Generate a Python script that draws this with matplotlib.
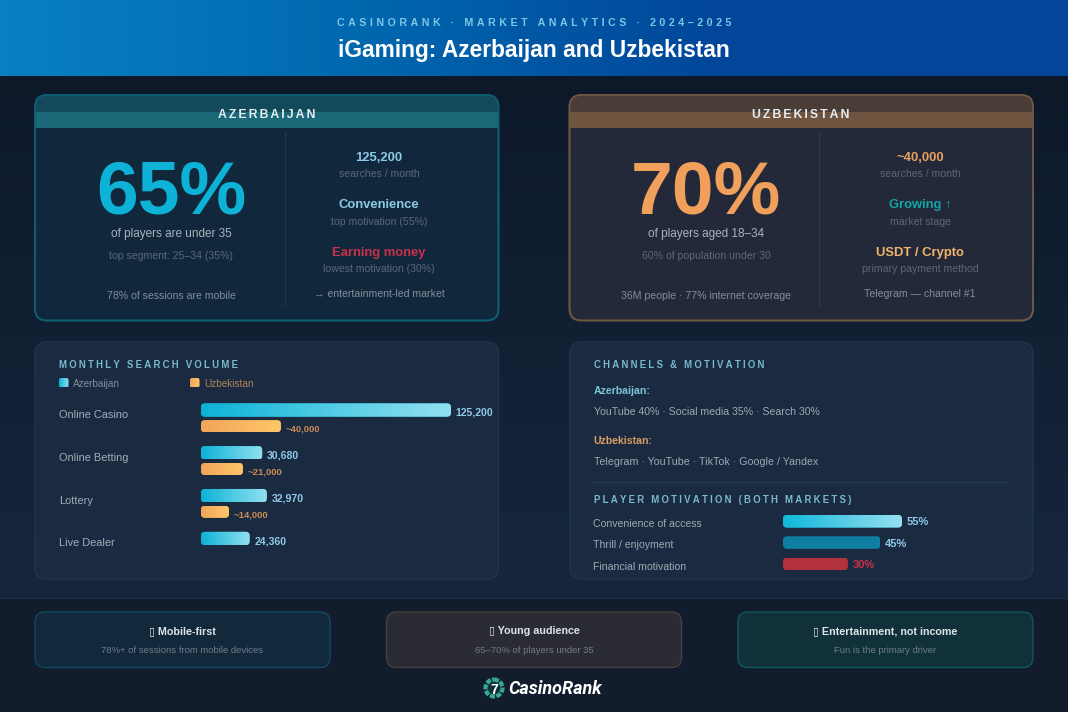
import numpy as np
import matplotlib
matplotlib.use("Agg")
import matplotlib.pyplot as plt
from matplotlib.colors import LinearSegmentedColormap
from matplotlib.patches import FancyBboxPatch, Rectangle, Circle

plt.rcParams["font.family"] = ["Liberation Sans", "DejaVu Sans"]

# data
search_cats = ["Online Casino", "Online Betting", "Lottery", "Live Dealer"]
search_az = [125200, 30680, 32970, 24360]
search_uz = [40000, 21000, 14000, None]
search_az_labels = ["125,200", "30,680", "32,970", "24,360"]
search_uz_labels = ["~40,000", "~21,000", "~14,000", ""]

motiv_cats = ["Convenience of access", "Thrill / enjoyment", "Financial motivation"]
motiv_vals = [55, 45, 30]
motiv_labels = ["55%", "45%", "30%"]

az_stats = [("125,200", "searches / month", "#8ecae6"),
            ("Convenience", "top motivation (55%)", "#8ecae6"),
            ("Earning money", "lowest motivation (30%)", "#c9304a")]
uz_stats = [("~40,000", "searches / month", "#e9a15f"),
            ("Growing ↑", "market stage", "#12a5a5"),
            ("USDT / Crypto", "primary payment method", "#f0b566")]

footer_titles = ["▯ Mobile-first", "▯ Young audience", "▯ Entertainment, not income"]
footer_subs = ["78%+ of sessions from mobile devices", "65–70% of players under 35", "Fun is the primary driver"]

CYAN = ["#0db2d6", "#4fcbe4", "#92dff0"]
ORANGE = ["#f2a45c", "#ffc766"]

fig = plt.figure(figsize=(10.68, 7.12), dpi=100)
bg = fig.add_axes([0, 0, 1, 1])
bg.set_xlim(0, 1068)
bg.set_ylim(712, 0)
bg.axis("off")
bg.autoscale(False)


def gradient(ax, colors, extent, horizontal=True, clip=None, zorder=1):
    cmap = LinearSegmentedColormap.from_list("g", colors)
    g = np.linspace(0, 1, 256)
    g = g.reshape(1, -1) if horizontal else g.reshape(-1, 1)
    im = ax.imshow(g, cmap=cmap, extent=extent, aspect="auto", zorder=zorder, interpolation="bilinear")
    if clip is not None:
        im.set_clip_path(clip)
    return im


def rbox(x0, y0, x1, y1, r, fc="none", ec="none", lw=1, zorder=2, add=True):
    p = FancyBboxPatch((x0 + r, y0 + r), x1 - x0 - 2 * r, y1 - y0 - 2 * r,
                       boxstyle=f"round,pad={r},rounding_size={r}",
                       fc=fc, ec=ec, lw=lw, zorder=zorder, transform=bg.transData)
    if add:
        bg.add_patch(p)
    return p


def put(x, y, s, px, color, weight="normal", ha="center", **kw):
    # y is the middle of the lowercase letters
    return bg.text(x, y + 0.36 * px, s, fontsize=px * 0.72, color=color, fontweight=weight,
                   ha=ha, va="baseline", zorder=6, **kw)


def tracked(s, n=1):
    return ("\u200a" * n).join(s)


def grad_bars(ax, bars, colors):
    for bar in bars:
        x0, x1 = bar.get_x(), bar.get_x() + bar.get_width()
        y0, y1 = bar.get_y(), bar.get_y() + bar.get_height()
        inv = bg.transData.inverted()
        (px0, py0), (px1, py1) = inv.transform(ax.transData.transform([(x0, y0), (x1, y1)]))
        clip = rbox(px0, min(py0, py1), px1, max(py0, py1), 4, add=False)
        bar.set_clip_path(clip)
        if len(colors) > 1:
            gradient(ax, colors, (x0, x1, y1, y0), clip=clip, zorder=3)


# page background
gradient(bg, ["#0d1929", "#122034", "#16263d"], (0, 1068, 598, 76), horizontal=False, zorder=0)
bg.add_patch(Rectangle((0, 598), 1068, 114, fc="#121c2c", ec="none", zorder=0.5))
bg.plot([0, 1068], [598, 598], color="#1d2b3f", lw=1, zorder=0.6)
gradient(bg, ["#0a80c4", "#0068ae", "#02479a", "#03459a"], (0, 1068, 76, 0), zorder=1)

put(534, 22, tracked("CASINORANK · MARKET ANALYTICS · 2024–2025", 4), 10.6, "#7cc6e6", weight="bold")
put(534, 49, "iGaming: Azerbaijan and Uzbekistan", 22.75, "#ffffff", weight="bold")

# country cards
cards = [
    dict(x0=35, x1=498.5, fc="#11283c", ec="#0e5f74", top="#124a5c", low="#1a6878",
         name="AZERBAIJAN", big="65%", big_c="#0db2d6", lx=171, dx=284.5, rx=379,
         l1="of players are under 35", l2="top segment: 25–34 (35%)", l3="78% of sessions are mobile",
         stats=az_stats, foot="→ entertainment-led market"),
    dict(x0=569.5, x1=1033, fc="#24293a", ec="#705844", top="#4a3d38", low="#6f5540",
         name="UZBEKISTAN", big="70%", big_c="#f0a05a", lx=706, dx=818.5, rx=920,
         l1="of players aged 18–34", l2="60% of population under 30", l3="36M people · 77% internet coverage",
         stats=uz_stats, foot="Telegram — channel #1"),
]
for c in cards:
    card = rbox(c["x0"], 95, c["x1"], 320.5, 12, fc=c["fc"], ec=c["ec"], lw=1.2, zorder=2)
    t = Rectangle((c["x0"], 95), c["x1"] - c["x0"], 16.5, fc=c["top"], ec="none", zorder=2.1)
    b = Rectangle((c["x0"], 111.5), c["x1"] - c["x0"], 16.5, fc=c["low"], ec="none", zorder=2.1)
    bg.add_patch(t)
    bg.add_patch(b)
    t.set_clip_path(card)
    b.set_clip_path(card)
    rbox(c["x0"], 95, c["x1"], 320.5, 12, ec=c["ec"], lw=1.2, zorder=2.2)
    bg.plot([c["dx"], c["dx"]], [133, 305], color="#ffffff", alpha=0.07, lw=1, zorder=3)
    put((c["x0"] + c["x1"]) / 2, 114, tracked(c["name"], 2), 12.3, "#e6edf2", weight="bold")
    put(c["lx"], 186, c["big"], 75, c["big_c"], weight="bold")
    put(c["lx"], 233, c["l1"], 11.8, "#a9b2bb")
    put(c["lx"], 255, c["l2"], 10.5, "#5a6876")
    put(c["lx"], 295.5, c["l3"], 10.5, "#828d99")
    for (val, sub, col), ys in zip(c["stats"], [156, 203.5, 251]):
        put(c["rx"], ys, val, 13, col, weight="bold")
        put(c["rx"], ys + 17.3, sub, 10.5, "#5a6876")
    put(c["rx"], 293, c["foot"], 10.5, "#828d99")

# lower panels
for x0, x1 in [(35, 498.5), (570, 1033)]:
    rbox(x0, 342, x1, 579, 12, fc="#1a2a40", ec="#22344c", lw=1, zorder=2)

# search volume panel
put(59, 364.5, tracked("MONTHLY SEARCH VOLUME", 3), 9.7, "#79b9cd", weight="bold", ha="left")
sw = rbox(59, 378, 68.5, 387.5, 2, add=False)
gradient(bg, CYAN, (59, 68.5, 387.5, 378), clip=sw, zorder=4)
sw = rbox(190, 378, 199.5, 387.5, 2, add=False)
gradient(bg, ORANGE, (190, 199.5, 387.5, 378), clip=sw, zorder=4)
put(73, 383.5, "Azerbaijan", 10, "#7f8e9c", ha="left")
put(204, 383.5, "Uzbekistan", 10, "#b5835c", ha="left")

ax1 = fig.add_axes([201 / 1068, 1 - 552 / 712, 250 / 1068, 157 / 712], facecolor="none")
ax1.set_xlim(0, 125200)
ax1.set_ylim(3.143, -0.526)
rows = np.arange(len(search_cats))
az_bars = ax1.barh(rows - 0.175, search_az, height=0.311, color=CYAN[0], zorder=2)
uz_rows = [r for r, v in zip(rows, search_uz) if v is not None]
uz_vals = [v for v in search_uz if v is not None]
uz_bars = ax1.barh(np.array(uz_rows) + 0.203, uz_vals, height=0.28, color=ORANGE[0], zorder=2)
grad_bars(ax1, az_bars, CYAN)
grad_bars(ax1, uz_bars, ORANGE)
ax1.set_yticks(rows - 0.08, search_cats, ha="left", color="#a3acb6", fontsize=11 * 0.72)
ax1.tick_params(axis="y", length=0, pad=142 * 0.72)
ax1.xaxis.set_visible(False)
for s in ax1.spines.values():
    s.set_visible(False)
for r, v, lab in zip(rows, search_az, search_az_labels):
    ax1.annotate(lab, (v, r - 0.175), xytext=(3.4, -2), textcoords="offset points", va="center",
                 color="#8ecae6", fontsize=7.6, fontweight="bold", annotation_clip=False)
for r, v, lab in zip(uz_rows, uz_vals, search_uz_labels):
    ax1.annotate(lab, (v, r + 0.203), xytext=(3.4, -2), textcoords="offset points", va="center",
                 color="#c98d55", fontsize=6.8, fontweight="bold", annotation_clip=False)

# channels panel
put(593.5, 364.5, tracked("CHANNELS & MOTIVATION", 3), 9.7, "#79b9cd", weight="bold", ha="left")
put(593.5, 390, "Azerbaijan:", 10.5, "#7cc4d4", weight="bold", ha="left")
put(593.5, 411.5, "YouTube 40% · Social media 35% · Search 30%", 10.5, "#a0a9b2", ha="left")
put(593.5, 440, "Uzbekistan:", 10.5, "#d99c62", weight="bold", ha="left")
put(593.5, 461.5, "Telegram · YouTube · TikTok · Google / Yandex", 10.6, "#a0a9b2", ha="left")
bg.plot([593, 1008], [482, 482], color="#27394f", lw=1, zorder=3)
put(593.5, 500, tracked("PLAYER MOTIVATION (BOTH MARKETS)", 3), 9.7, "#79b9cd", weight="bold", ha="left")

ax2 = fig.add_axes([783 / 1068, 1 - 578 / 712, 119 / 1068, 70 / 712], facecolor="none")
ax2.set_xlim(0, 55)
ax2.set_ylim(2.66, -0.62)
m_rows = np.arange(len(motiv_cats))
m_bars = ax2.barh(m_rows, motiv_vals, height=0.59, color=["#0db2d6", "#0e7ea3", "#b3303f"], zorder=2)
grad_bars(ax2, [m_bars[0]], ["#10b8da", "#55cce6", "#96e0ee"])
grad_bars(ax2, [m_bars[1]], ["#0e7ea3"])
grad_bars(ax2, [m_bars[2]], ["#b3303f"])
ax2.set_yticks(m_rows + 0.08, motiv_cats, ha="left", color="#a0a9b2", fontsize=10.5 * 0.72)
ax2.tick_params(axis="y", length=0, pad=190 * 0.72)
ax2.xaxis.set_visible(False)
for s in ax2.spines.values():
    s.set_visible(False)
for r, v, lab, col in zip(m_rows, motiv_vals, motiv_labels, ["#8ecae6", "#8ecae6", "#c9304a"]):
    ax2.annotate(lab, (v, r), xytext=(3.6, -0.7), textcoords="offset points", va="center",
                 color=col, fontsize=8, fontweight="bold", annotation_clip=False)

# footer boxes
boxes = [(35, 330, "#12293c", "#0f4a60"), (386.5, 681.5, "#2a2b33", "#45403f"), (738, 1033, "#10303a", "#0f5a5c")]
for (x0, x1, fc, ec), t, s in zip(boxes, footer_titles, footer_subs):
    rbox(x0, 612, x1, 667.5, 10, fc=fc, ec=ec, lw=1, zorder=2)
    put((x0 + x1) / 2, 630, t, 10.8, "#dde3e8", weight="bold")
    put((x0 + x1) / 2, 649.5, s, 9.5, "#6f7c8a")

# logo
bg.add_patch(Circle((494, 688), 8.5, fc="#123038", ec="#35a898", lw=3, ls=(0, (1.2, 0.35)), zorder=5))
bg.text(494, 688, "7", fontsize=10, fontweight="bold", color="#ffffff", ha="center", va="center_baseline", zorder=6)
bg.text(508, 693.5, "CasinoRank", fontsize=13, fontweight="bold", fontstyle="italic", family="Roboto",
        color="#ffffff", ha="left", va="baseline", zorder=6)

fig.savefig("out.png", dpi=100, facecolor="#0d1929")
